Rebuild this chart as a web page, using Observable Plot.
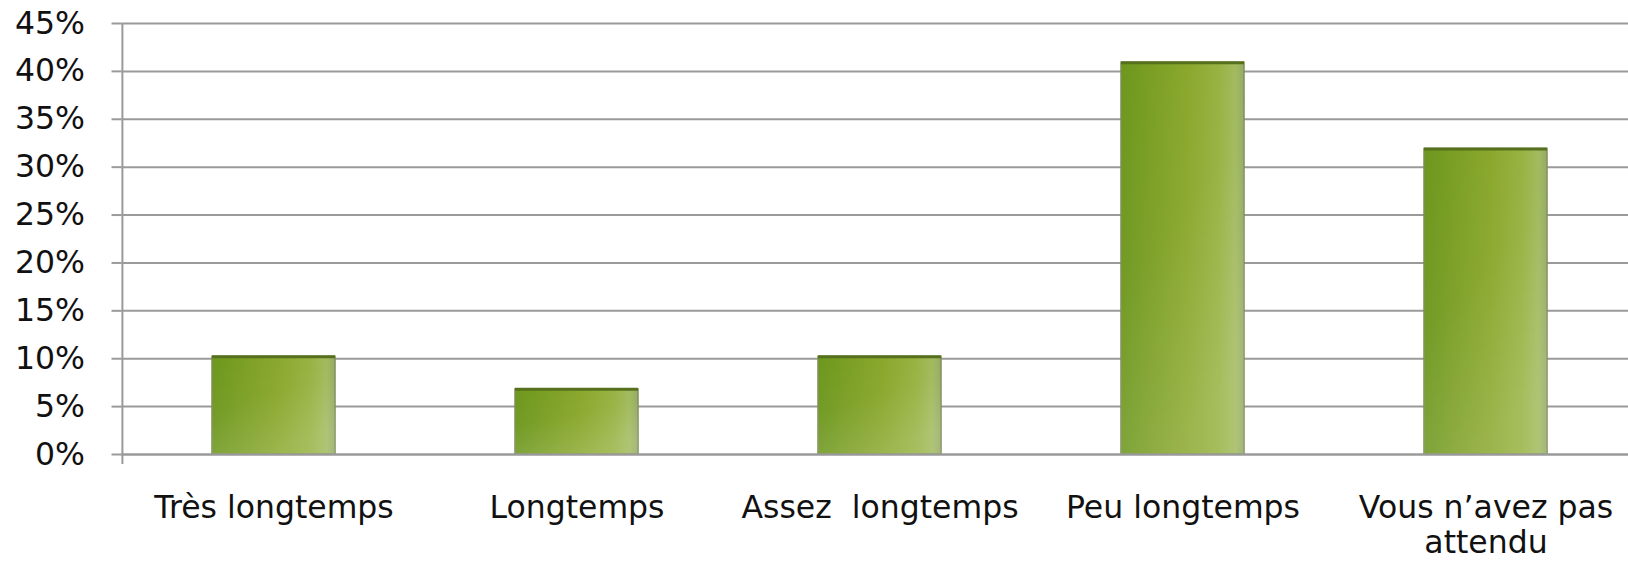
<!DOCTYPE html>
<html>
<head>
<meta charset="utf-8">
<script src="https://cdn.jsdelivr.net/npm/d3@7"></script>
<script src="https://cdn.jsdelivr.net/npm/@observablehq/plot@0.6"></script>
<style>
  html, body { margin: 0; padding: 0; background: #fff; overflow: hidden; }
  svg text { white-space: pre; }
</style>
</head>
<body>
<div id="chart"></div>
<script>
const categories = ["Très longtemps", "Longtemps", "Assez  longtemps", "Peu longtemps", "Vous n’avez pas attendu"];
const tickLabels = ["Très longtemps", "Longtemps", "Assez  longtemps", "Peu longtemps", "Vous n’avez pas\nattendu"];
const values = [10.2, 6.8, 10.2, 40.9, 31.9];
const yTicks = [0, 5, 10, 15, 20, 25, 30, 35, 40, 45];

const data = categories.map((c, i) => ({category: c, value: values[i]}));

const W = 1628, H = 562;
const xRange = [121.5, 1637.5];
const step = (xRange[1] - xRange[0]) / categories.length;
const barInset = 90;
const gridColor = "#9a9a9a";
const font = "DejaVu Sans";
const fs = 31.5;

const defs = () => {
  const g = d3.create("svg:g");
  const d = g.append("defs");
  const h = d.append("linearGradient").attr("id", "barGrad")
    .attr("x1", 0).attr("y1", 0).attr("x2", 1).attr("y2", 0);
  [[0, "#6c971d"], [0.25, "#7a9e22"], [0.55, "#89a72a"], [0.8, "#96b13f"], [0.93, "#a0b95a"], [1, "#93a862"]]
    .forEach(([o, c]) => h.append("stop").attr("offset", o).attr("stop-color", c));
  const v = d.append("linearGradient").attr("id", "barShade")
    .attr("x1", 0).attr("y1", 0).attr("x2", 0.4).attr("y2", 1);
  [[0, "#ffffff", 0], [0.5, "#ffffff", 0.04], [1, "#ffffff", 0.16]]
    .forEach(([o, c, op]) => v.append("stop").attr("offset", o).attr("stop-color", c).attr("stop-opacity", op));
  return g.node();
};

const plot = Plot.plot({
  width: W,
  height: H,
  marginTop: 23,
  marginLeft: xRange[0],
  marginRight: 0,
  marginBottom: 98,
  style: {fontFamily: font, fontSize: fs + "px", color: "#111", background: "#fff"},
  x: {domain: categories, range: xRange, padding: 0},
  y: {domain: [0, 45], range: [454, 23]},
  marks: [
    defs,
    Plot.gridY(yTicks, {stroke: gridColor, strokeOpacity: 1, strokeWidth: 2}),
    Plot.axisY(yTicks, {
      tickSize: 10, tickPadding: 27, stroke: gridColor, strokeWidth: 2,
      tickFormat: d => d + "%", fontSize: fs, fill: "#111", label: null
    }),
    Plot.barY(data, {x: "category", y: "value", fill: "url(#barGrad)", stroke: "#7d8f55", strokeWidth: 1.5, insetLeft: barInset, insetRight: barInset}),
    Plot.barY(data, {x: "category", y: "value", fill: "url(#barShade)", insetLeft: barInset, insetRight: barInset}),
    Plot.tickY(data, {x: "category", y: "value", stroke: "#56701e", strokeWidth: 3, insetLeft: barInset, insetRight: barInset}),
    Plot.ruleY([0], {stroke: gridColor, strokeWidth: 2}),
    Plot.ruleX([categories[0]], {x: d => d, dx: -step / 2, stroke: gridColor, strokeWidth: 2}),
    Plot.ruleX(categories.slice(1), {x: d => d, y1: 0, dx: -step / 2, stroke: gridColor, strokeWidth: 2}),
    Plot.axisX({
      tickSize: 0, tickPadding: 29, fontSize: fs, fill: "#111", lineHeight: 1.1,
      tickFormat: d => tickLabels[categories.indexOf(d)], label: null
    })
  ]
});
document.getElementById("chart").appendChild(plot);
</script>
</body>
</html>
